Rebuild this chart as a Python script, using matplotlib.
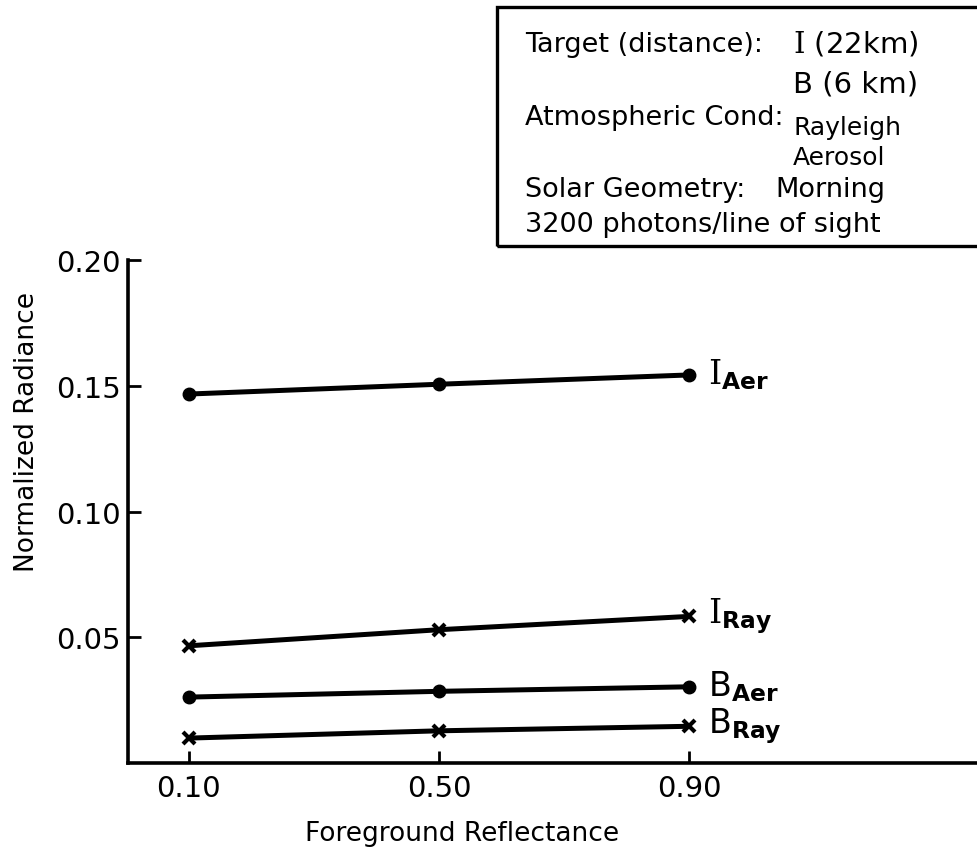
import matplotlib
matplotlib.use("Agg")
import matplotlib.pyplot as plt
from matplotlib.patches import Rectangle

plt.rcParams['font.family'] = ['DejaVu Sans']
plt.rcParams['mathtext.fontset'] = 'custom'
plt.rcParams['mathtext.rm'] = 'DejaVu Serif'
plt.rcParams['mathtext.sf'] = 'DejaVu Sans'
plt.rcParams['mathtext.bf'] = 'DejaVu Sans:bold'

# ---- data ----
reflectance = [0.10, 0.50, 0.90]
I_aer = [0.1467, 0.1506, 0.1543]
I_ray = [0.0466, 0.0530, 0.0583]
B_aer = [0.0262, 0.0285, 0.0303]
B_ray = [0.0099, 0.0128, 0.0146]
x_ticks = [0.10, 0.50, 0.90]
x_ticklabels = ["0.10", "0.50", "0.90"]
y_ticks = [0.05, 0.10, 0.15, 0.20]
y_ticklabels = ["0.05", "0.10", "0.15", "0.20"]

W, H = 977, 862
fig = plt.figure(figsize=(W / 100, H / 100), dpi=100)
ax = fig.add_axes([128 / W, 1 - 764 / H, 1 - 128 / W + 0.01, (764 - 261) / H])

series = [
    (I_aer, 'o', r"$\mathrm{I}_{\mathbf{Aer}}$"),
    (I_ray, 'x', r"$\mathrm{I}_{\mathbf{Ray}}$"),
    (B_aer, 'o', r"$\mathsf{B}_{\mathbf{Aer}}$"),
    (B_ray, 'x', r"$\mathsf{B}_{\mathbf{Ray}}$"),
]
for vals, mk, lab in series:
    if mk == 'o':
        ax.plot(reflectance, vals, color='black', lw=3.6, marker='o', ms=9,
                solid_capstyle='butt')
    else:
        ax.plot(reflectance, vals, color='black', lw=3.6, marker='x', ms=9,
                mew=3, solid_capstyle='butt')
    ax.annotate(lab, xy=(reflectance[-1], vals[-1]), xytext=(13, 1),
                textcoords='offset points', va='center', ha='left',
                fontsize=24, color='black')

ax.set_xlim(0.003, 1.375)
ax.set_ylim(0.0, 0.20)
ax.set_xticks(x_ticks)
ax.set_xticklabels(x_ticklabels)
ax.set_yticks(y_ticks)
ax.set_yticklabels(y_ticklabels)
ax.tick_params(direction='in', length=9, width=2, labelsize=21, colors='black')
ax.tick_params(axis='x', pad=8)
ax.tick_params(axis='y', pad=5)
for s in ['top', 'right']:
    ax.spines[s].set_visible(False)
for s in ['left', 'bottom']:
    ax.spines[s].set_linewidth(2.6)
ax.patch.set_visible(False)

fig.text(27 / W, 1 - 432 / H, "Normalized Radiance", rotation=90,
         ha='center', va='center', fontsize=19)
fig.text(462 / W, 1 - 834 / H, "Foreground Reflectance",
         ha='center', va='center', fontsize=19)

# info box
fig.add_artist(Rectangle((497 / W, 1 - 247 / H), 0.6, (247 - 8) / H,
                         transform=fig.transFigure, fill=False,
                         lw=2.4, edgecolor='black'))
fs = 19.5
def bt(x, y, s, size=fs):
    fig.text(x / W, 1 - y / H, s, ha='left', va='baseline', fontsize=size)

bt(525, 52, "Target (distance):")
bt(793, 52, r"$\mathrm{I}$ (22km)", size=21)
bt(793, 92, "B (6 km)", size=21)
bt(525, 125, "Atmospheric Cond:")
bt(793, 135, "Rayleigh", size=18)
bt(793, 165, "Aerosol", size=18)
bt(525, 197, "Solar Geometry:")
bt(775, 197, "Morning")
bt(525, 232, "3200 photons/line of sight")

fig.savefig("out.png", dpi=100)
